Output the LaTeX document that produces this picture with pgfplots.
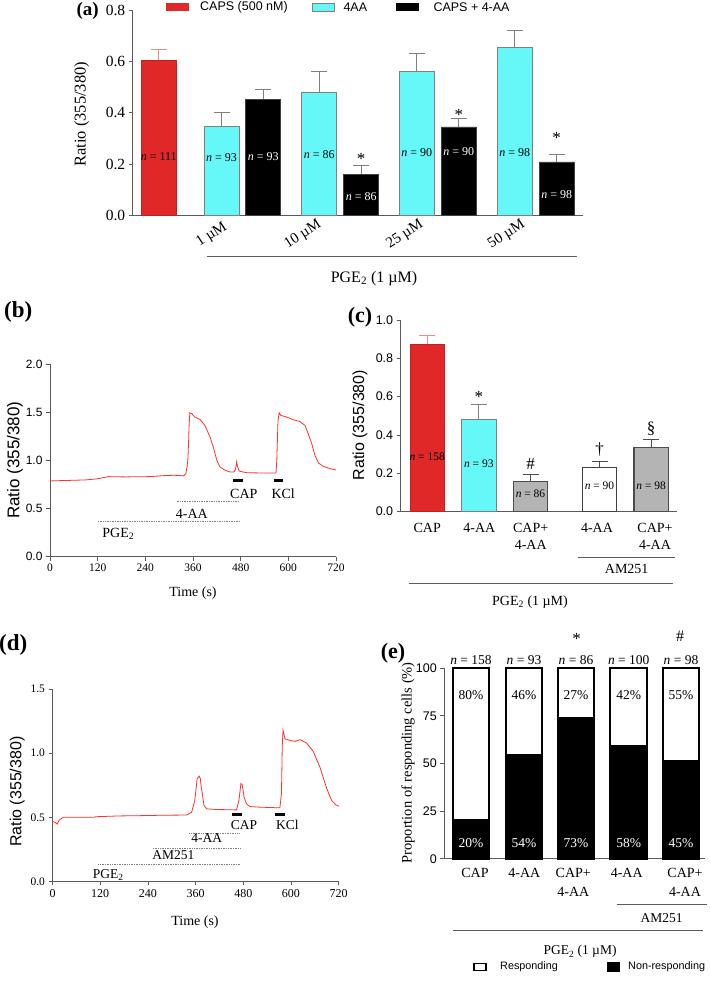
\documentclass[border=0pt]{standalone}
\usepackage{fontspec}
\setmainfont{Liberation Serif}
\setsansfont{Liberation Sans}
\usepackage{pgfplots}
\pgfplotsset{compat=1.18}
\definecolor{cred}{HTML}{E02828}
\definecolor{cerr}{HTML}{F08A8A}
\definecolor{ccyan}{HTML}{66F8F8}
\definecolor{cgray}{HTML}{B4B4B4}
\definecolor{caxis}{HTML}{5A5A5A}
\definecolor{ctrace}{HTML}{FF3030}
\newcommand{\fs}[1]{\fontsize{#1}{#1}\selectfont}
\newcommand{\fss}[2]{\fontsize{#1}{#2}\selectfont}
\pgfplotsset{
  panel/.style={scale only axis, clip=false, anchor=south west,
    axis x line*=bottom, axis y line*=left,
    axis line style={-, caxis, line width=0.8pt},
    tick align=outside, major tick length=4pt,
    tick style={caxis, line width=0.8pt},
    /pgf/number format/assume math mode=true},
  onedec/.style={/pgf/number format/fixed, /pgf/number format/fixed zerofill, /pgf/number format/precision=1},
  mybar/.style={ybar, bar shift=0pt, line width=0.7pt,
    error bars/y dir=plus, error bars/y explicit,
    error bars/error bar style={line width=0.8pt, #1},
    error bars/error mark options={rotate=90, mark size=8pt, line width=0.8pt, #1}},
}
\begin{document}
\begin{tikzpicture}
\useasboundingbox (0,0) rectangle (709pt,981pt);
% ================= (a) =================
\begin{axis}[panel, at={(132.7pt,765.3pt)}, width=450.6pt, height=205.7pt,
  xmin=132.7, xmax=583.3, ymin=0, ymax=0.8, xtick=\empty,
  ytick={0,0.2,0.4,0.6,0.8},
  yticklabel style={onedec, font=\fs{15.5}}]
\addplot[mybar={cerr}, bar width=35, fill=cred, draw=cred!85!black] coordinates {(158.7,0.604) +- (0,0.044)};
\addplot[mybar={gray}, bar width=35, fill=ccyan, draw=gray] coordinates {(221.5,0.348) +- (0,0.054) (319.2,0.479) +- (0,0.082) (416.8,0.560) +- (0,0.072) (514.8,0.655) +- (0,0.067)};
\addplot[mybar={gray}, bar width=35, fill=black, draw=black!75] coordinates {(263.3,0.452) +- (0,0.040) (361.2,0.162) +- (0,0.032) (458.8,0.345) +- (0,0.035) (556.7,0.209) +- (0,0.028)};
% n labels
\begin{scope}[every node/.style={font=\fs{12}, inner sep=0pt}]
\node at (axis cs:158.7,0.229) {\textit{n} = 111};
\node at (axis cs:221.5,0.225) {\textit{n} = 93};
\node[white] at (axis cs:263.3,0.229) {\textit{n} = 93};
\node at (axis cs:319.2,0.239) {\textit{n} = 86};
\node[white] at (axis cs:361.2,0.076) {\textit{n} = 86};
\node at (axis cs:416.8,0.244) {\textit{n} = 90};
\node[white] at (axis cs:458.8,0.251) {\textit{n} = 90};
\node at (axis cs:514.8,0.247) {\textit{n} = 98};
\node[white] at (axis cs:556.7,0.083) {\textit{n} = 98};
\end{scope}
\begin{scope}[every node/.style={font=\fs{17}, inner sep=0pt}]
\node at (axis cs:361.2,0.222) {*};
\node at (axis cs:458.8,0.393) {*};
\node at (axis cs:556.7,0.302) {*};
\end{scope}
% legend
\fill[cred] (axis cs:165.7,0.795) rectangle (axis cs:189.3,0.826);
\filldraw[fill=ccyan, draw=gray, line width=0.6pt] (axis cs:312.3,0.795) rectangle (axis cs:334.3,0.826);
\fill[black] (axis cs:395.7,0.795) rectangle (axis cs:419.3,0.826);
\begin{scope}[every node/.style={font=\sffamily\fs{12.5}, inner sep=0pt, anchor=west}]
\node at (axis cs:200,0.810) {CAPS (500 nM)};
\node at (axis cs:343.3,0.810) {4AA};
\node at (axis cs:433.3,0.810) {CAPS + 4-AA};
\end{scope}
\node[font=\bfseries\fs{19}, inner sep=0pt] at (axis cs:87.7,0.797) {(a)};
\node[font=\fs{16.5}, rotate=90, inner sep=0pt] at (axis cs:81.7,0.394) {Ratio (355/380)};
\begin{scope}[every node/.style={font=\fs{15}, inner sep=0pt, rotate=33}]
\node at (axis cs:211.7,-0.075) {1 µM};
\node at (axis cs:303,-0.075) {10 µM};
\node at (axis cs:405,-0.075) {25 µM};
\node at (axis cs:506.7,-0.075) {50 µM};
\end{scope}
\addplot[caxis, line width=0.8pt] coordinates {(206.7,-0.158) (576.7,-0.158)};
\node[font=\fs{16}, inner sep=0pt] at (axis cs:374,-0.2435) {PGE\textsubscript{2} (1 µM)};
\end{axis}
% ================= (b) =================
\begin{axis}[panel, at={(50pt,424.3pt)}, width=286pt, height=192.7pt,
  xmin=0, xmax=720, ymin=0, ymax=2,
  xtick={0,120,...,720}, ytick={0,0.5,1,1.5,2},
  xticklabel style={font=\fs{11.5}},
  yticklabel style={onedec, font=\sffamily\fs{12}}]
\addplot[ctrace, line width=0.8pt] coordinates {(0,0.786) (30,0.79) (59,0.793) (90,0.797) (117,0.807) (134,0.82) (147,0.831) (170,0.829) (193,0.828) (220,0.83) (252,0.831) (285,0.841) (310,0.845) (325,0.843) (336,0.838) (342,0.862) (345,0.93) (347,1.0) (349,1.2) (350,1.345) (352,1.493) (357,1.483) (365,1.448) (378,1.424) (390,1.362) (403,1.241) (411,1.138) (420,1.0) (428,0.931) (441,0.897) (453,0.879) (463,0.879) (466,0.9) (468,0.931) (470,0.986) (472,0.938) (475,0.9) (478,0.886) (495,0.872) (529,0.869) (569,0.869) (571,1.0) (574,1.414) (577,1.493) (581,1.466) (592,1.455) (613,1.421) (629,1.403) (642,1.362) (650,1.276) (659,1.172) (667,1.052) (676,0.972) (688,0.938) (705,0.914) (720,0.9)};
\addplot[black, line width=2.5pt] coordinates {(461,0.793) (485,0.793)};
\addplot[black, line width=2.5pt] coordinates {(564,0.793) (586,0.793)};
\addplot[gray, densely dotted, line width=0.7pt] coordinates {(319,0.579) (474,0.579)};
\addplot[gray, densely dotted, line width=0.7pt] coordinates {(121,0.362) (477,0.362)};
\begin{scope}[every node/.style={font=\fs{14}, inner sep=0pt}]
\node at (axis cs:488,0.655) {CAP};
\node at (axis cs:587,0.655) {KCl};
\node at (axis cs:357,0.448) {4-AA};
\node at (axis cs:172,0.241) {PGE\textsubscript{2}};
\node at (axis cs:360,-0.377) {Time (s)};
\end{scope}
\node[font=\sffamily\fs{17}, rotate=90, inner sep=0pt] at (axis cs:-88,1.0) {Ratio (355/380)};
\node[font=\bfseries\fs{23}, inner sep=0pt] at (axis cs:-80,2.54) {(b)};
\end{axis}
% ================= (c) =================
\begin{axis}[panel, at={(400.7pt,469.3pt)}, width=276pt, height=191.7pt,
  xmin=400.7, xmax=676.7, ymin=0, ymax=1, xtick=\empty,
  ytick={0,0.2,0.4,0.6,0.8,1.0},
  yticklabel style={onedec, font=\sffamily\fs{12.5}}]
\addplot[mybar={cerr}, bar width=34.3, fill=cred, draw=cred!85!black] coordinates {(427.2,0.873) +- (0,0.049)};
\addplot[mybar={gray}, bar width=34.3, fill=ccyan, draw=gray] coordinates {(478.8,0.482) +- (0,0.080)};
\addplot[mybar={black!70}, bar width=34.3, fill=cgray, draw=black!70, line width=1pt] coordinates {(530.5,0.160) +- (0,0.035)};
\addplot[mybar={black!70}, bar width=34.3, fill=white, draw=black!75, line width=1.1pt] coordinates {(599.5,0.230) +- (0,0.034)};
\addplot[mybar={black!70}, bar width=34.3, fill=cgray, draw=black!70, line width=1.4pt] coordinates {(651.2,0.334) +- (0,0.043)};
\begin{scope}[every node/.style={font=\fs{11.5}, inner sep=0pt}]
\node at (axis cs:427.2,0.287) {\textit{n} = 158};
\node at (axis cs:478.8,0.249) {\textit{n} = 93};
\node at (axis cs:530.5,0.092) {\textit{n} = 86};
\node at (axis cs:599.5,0.137) {\textit{n} = 90};
\node at (axis cs:651.2,0.137) {\textit{n} = 98};
\end{scope}
\begin{scope}[every node/.style={font=\fs{17}, inner sep=0pt}]
\node at (axis cs:478.8,0.598) {*};
\node at (axis cs:530.5,0.249) {\#};
\node at (axis cs:599.5,0.322) {†};
\node at (axis cs:651.2,0.435) {§};
\end{scope}
\begin{scope}[every node/.style={font=\fss{14}{17}, inner sep=0pt, align=center}]
\node at (axis cs:427.2,-0.085) {CAP};
\node at (axis cs:479.3,-0.085) {4-AA};
\node at (axis cs:530.7,-0.129) {CAP+\\4-AA};
\node at (axis cs:597,-0.085) {4-AA};
\node at (axis cs:655,-0.129) {CAP+\\4-AA};
\node at (axis cs:626.7,-0.299) {AM251};
\node at (axis cs:530,-0.473) {PGE\textsubscript{2} (1 µM)};
\end{scope}
\addplot[caxis, line width=0.8pt] coordinates {(578.3,-0.238) (675,-0.238)};
\addplot[caxis, line width=0.8pt] coordinates {(409,-0.3735) (673,-0.3735)};
\node[font=\sffamily\fs{16}, rotate=90, inner sep=0pt] at (axis cs:360,0.452) {Ratio (355/380)};
\node[font=\bfseries\fs{22}, inner sep=0pt] at (axis cs:360,1.016) {(c)};
\end{axis}
% ================= (d) =================
\begin{axis}[panel, at={(52.5pt,99.5pt)}, width=286.2pt, height=192.5pt,
  xmin=0, xmax=720, ymin=0, ymax=1.5,
  xtick={0,120,...,720}, ytick={0,0.5,1,1.5},
  xticklabel style={font=\fs{12}},
  yticklabel style={onedec, font=\fs{11.5}}]
\addplot[ctrace, line width=0.8pt] coordinates {(0,0.468) (6,0.461) (12,0.447) (17,0.479) (27,0.5) (60,0.5) (102,0.5) (111,0.505) (140,0.508) (170,0.511) (220,0.513) (270,0.516) (337,0.518) (350,0.539) (358,0.632) (364,0.803) (369,0.821) (372,0.8) (374,0.737) (377,0.684) (381,0.592) (388,0.566) (413,0.561) (463,0.558) (469,0.632) (474,0.763) (477,0.758) (482,0.658) (488,0.605) (497,0.584) (522,0.579) (572,0.574) (576,0.684) (578,1.053) (580,1.179) (585,1.111) (597,1.1) (610,1.092) (623,1.105) (639,1.079) (656,1.013) (673,0.889) (690,0.724) (702,0.632) (713,0.597) (720,0.587)};
\addplot[black, line width=2.5pt] coordinates {(452,0.521) (476,0.521)};
\addplot[black, line width=2.5pt] coordinates {(560,0.521) (585,0.521)};
\addplot[gray, densely dotted, line width=0.7pt] coordinates {(344,0.379) (472,0.379)};
\addplot[gray, densely dotted, line width=0.7pt] coordinates {(253,0.258) (473,0.258)};
\addplot[gray, densely dotted, line width=0.7pt] coordinates {(115,0.132) (473,0.132)};
\begin{scope}[every node/.style={font=\fs{13.5}, inner sep=0pt}]
\node at (axis cs:482,0.442) {CAP};
\node at (axis cs:591,0.442) {KCl};
\node at (axis cs:388,0.337) {4-AA};
\node at (axis cs:304,0.205) {AM251};
\node at (axis cs:140,0.053) {PGE\textsubscript{2}};
\node[font=\fs{14}] at (axis cs:358.5,-0.316) {Time (s)};
\end{scope}
\node[font=\sffamily\fs{16}, rotate=90, inner sep=0pt] at (axis cs:-89,0.70) {Ratio (355/380)};
\node[font=\bfseries\fs{23}, inner sep=0pt] at (axis cs:-99,1.843) {(d)};
\end{axis}
% ================= (e) =================
\begin{axis}[panel, at={(444.3pt,122.3pt)}, width=260.7pt, height=190.4pt,
  xmin=444.3, xmax=705, ymin=0, ymax=100, xtick=\empty,
  ytick={0,25,50,75,100},
  yticklabel style={font=\sffamily\fs{12.5}}]
\addplot[ybar, bar shift=0pt, bar width=36.7, fill=white, draw=black, line width=2.2pt] coordinates {(471,100) (524,100) (576,100) (628.7,100) (681,100)};
\addplot[ybar, bar shift=0pt, bar width=36.7, fill=black, draw=black, line width=2.2pt] coordinates {(471,20.5) (524,54.5) (576,74) (628.7,59) (681,51)};
\begin{scope}[every node/.style={font=\fs{13.5}, inner sep=0pt}]
\node at (axis cs:471,86) {80\%};
\node at (axis cs:524,86) {46\%};
\node at (axis cs:576,86) {27\%};
\node at (axis cs:628.7,86) {42\%};
\node at (axis cs:681,86) {55\%};
\node[white] at (axis cs:471,8.4) {20\%};
\node[white] at (axis cs:524,8.4) {54\%};
\node[white] at (axis cs:576,8.4) {73\%};
\node[white] at (axis cs:628.7,8.4) {58\%};
\node[white] at (axis cs:681,8.4) {45\%};
\node at (axis cs:471,104.4) {\textit{n} = 158};
\node at (axis cs:524,104.4) {\textit{n} = 93};
\node at (axis cs:576,104.4) {\textit{n} = 86};
\node at (axis cs:628.7,104.4) {\textit{n} = 100};
\node at (axis cs:681,104.4) {\textit{n} = 98};
\node[font=\fs{17}] at (axis cs:576.7,115.6) {*};
\node[font=\fs{16}] at (axis cs:680,116.6) {\#};
\end{scope}
\begin{scope}[every node/.style={font=\fss{14}{18.7}, inner sep=0pt, align=center}]
\node at (axis cs:475,-7.5) {CAP};
\node at (axis cs:524.3,-7.5) {4-AA};
\node at (axis cs:573.3,-12.4) {CAP+\\4-AA};
\node at (axis cs:626.7,-7.5) {4-AA};
\node at (axis cs:685,-12.4) {CAP+\\4-AA};
\node[font=\fs{13.5}] at (axis cs:661.7,-31.1) {AM251};
\node[font=\fs{13.5}] at (axis cs:580,-48.8) {PGE\textsubscript{2} (1 µM)};
\end{scope}
\addplot[caxis, line width=0.8pt] coordinates {(616.7,-23.8) (706.7,-23.8)};
\addplot[caxis, line width=0.8pt] coordinates {(453,-37.4) (703,-37.4)};
\draw[black, line width=1.6pt, fill=white] (axis cs:474,-55) rectangle (axis cs:486,-58.7);
\fill[black] (axis cs:606.7,-54.2) rectangle (axis cs:620,-59.4);
\node[font=\sffamily\fs{10.8}, inner sep=0pt, anchor=west] at (axis cs:500,-56.9) {Responding};
\node[font=\sffamily\fs{10.8}, inner sep=0pt, anchor=west] at (axis cs:628,-56.9) {Non-responding};
\node[font=\fs{14.5}, rotate=90, inner sep=0pt] at (axis cs:408,50.3) {Proportion of responding cells (\%)};
\node[font=\bfseries\fs{22}, inner sep=0pt] at (axis cs:393,108) {(e)};
\end{axis}
\end{tikzpicture}
\end{document}
